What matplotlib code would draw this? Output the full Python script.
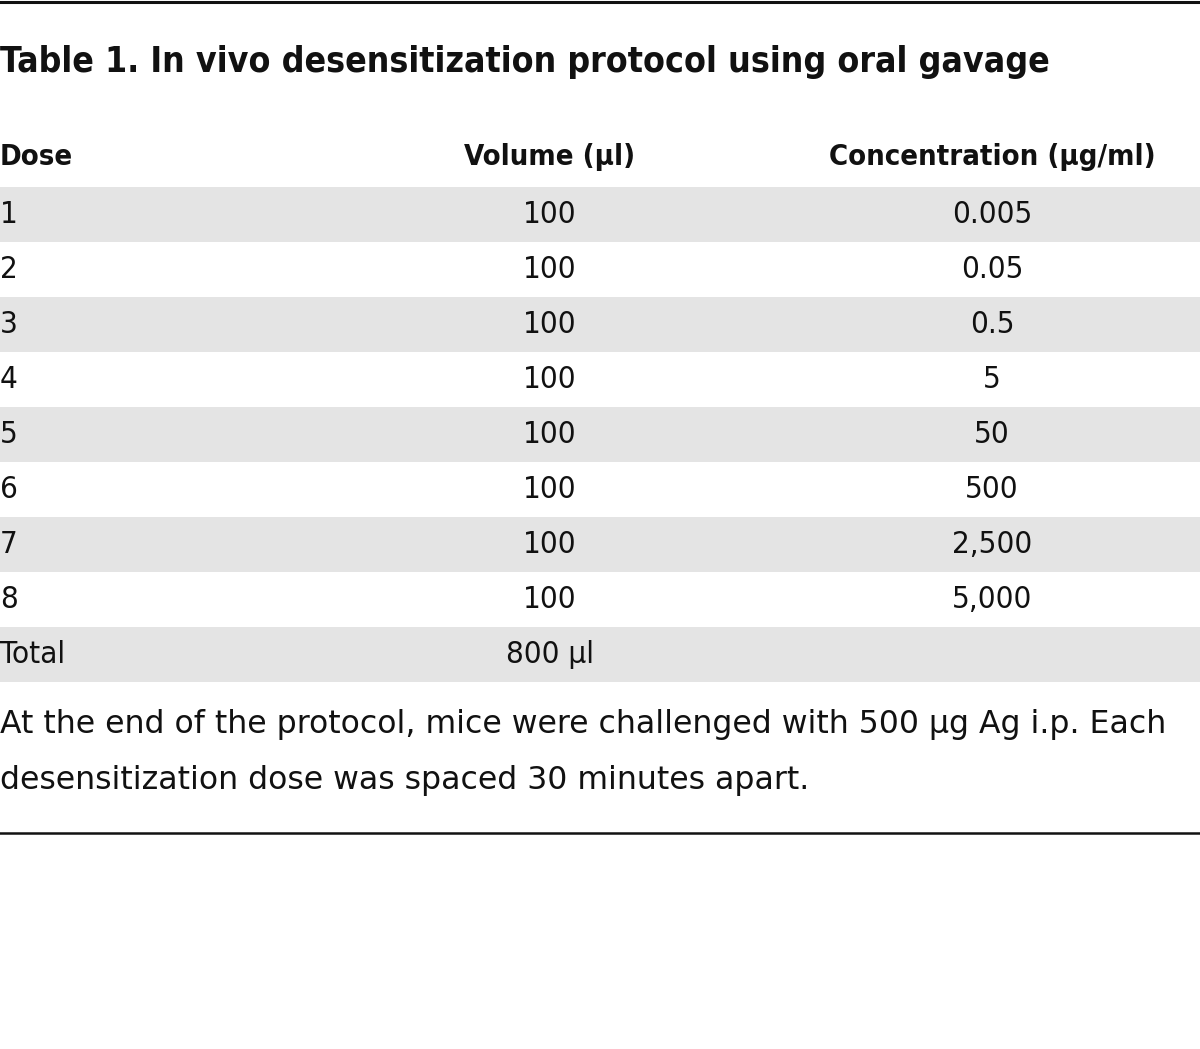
import matplotlib
matplotlib.use("Agg")
import matplotlib.pyplot as plt

W, H = 1200, 1049
INK = "#111111"; SHADE = "#e4e4e4"

title = "Table 1. In vivo desensitization protocol using oral gavage"
headers = ["Dose", "Volume (µl)", "Concentration (µg/ml)"]
doses = ["1", "2", "3", "4", "5", "6", "7", "8", "Total"]
volumes = ["100", "100", "100", "100", "100", "100", "100", "100", "800 µl"]
concentrations = ["0.005", "0.05", "0.5", "5", "50", "500", "2,500", "5,000", ""]
footnote = ["At the end of the protocol, mice were challenged with 500 µg Ag i.p. Each",
            "desensitization dose was spaced 30 minutes apart."]

fig = plt.figure(figsize=(W / 100, H / 100), dpi=100)
ax = fig.add_axes([0, 0, 1, 1])
ax.set_xlim(0, W); ax.set_ylim(H, 0); ax.axis("off")

# top and bottom rules
ax.axhline(2, color=INK, lw=2.2)
ax.axhline(833, color=INK, lw=1.8)

ax.text(0, 62, title, fontsize=25.6, fontweight="bold", fontstretch="condensed",
        ha="left", va="center", color=INK)

col_x = [0, 550, 992]
col_ha = ["left", "center", "center"]
for x, ha, h in zip(col_x, col_ha, headers):
    ax.text(x, 157, h, fontsize=21, fontweight="bold", fontstretch="condensed",
            ha=ha, va="center", color=INK)

# body rows, shaded on alternate rows
row0, row_h = 187, 55
for i, row in enumerate(zip(doses, volumes, concentrations)):
    top = row0 + i * row_h
    if i % 2 == 0:
        ax.axhspan(top, top + row_h, color=SHADE, lw=0, zorder=0)
    for x, ha, v in zip(col_x, col_ha, row):
        ax.text(x, top + row_h / 2, v, fontsize=22.5, fontstretch="condensed",
                ha=ha, va="center", color=INK)

for j, line in enumerate(footnote):
    ax.text(0, 725 + j * 55, line, fontsize=22.7,
            ha="left", va="center", color=INK)

fig.savefig("out.png", dpi=100)
